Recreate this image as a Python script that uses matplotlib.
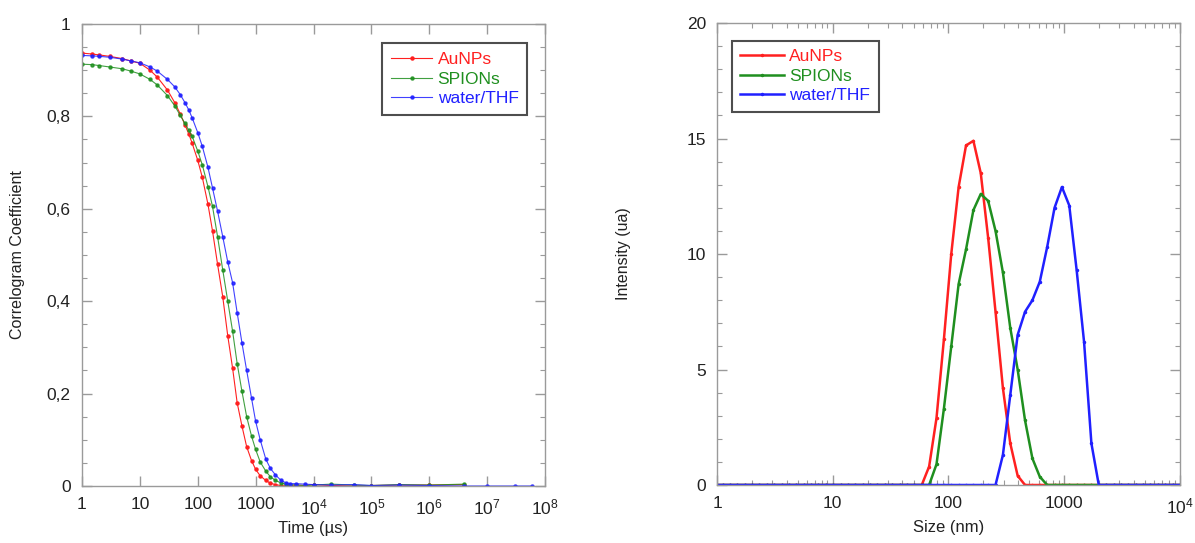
import numpy as np
import matplotlib.pyplot as plt
from matplotlib import ticker

plt.rcParams['font.family'] = ['Liberation Sans', 'DejaVu Sans']

# --------------------------------------------------
# Correlogram data (left panel)
# --------------------------------------------------
time_us = [1, 1.5, 2, 3, 5, 7, 10, 15, 20, 30, 40, 50, 60, 70, 80, 100, 120, 150,
           180, 220, 270, 330, 400, 480, 580, 700, 850, 1000, 1200, 1500, 1800,
           2200, 2700, 3300, 4000, 5000, 7000, 1e4, 2e4, 5e4, 1e5, 3e5, 1e6, 4e6]
time_tail = [1e7, 3e7, 6e7]

corr_aunps = [0.937, 0.935, 0.933, 0.930, 0.925, 0.920, 0.915, 0.900, 0.885, 0.857,
              0.830, 0.805, 0.782, 0.762, 0.742, 0.705, 0.668, 0.610, 0.552, 0.480,
              0.410, 0.325, 0.255, 0.180, 0.130, 0.085, 0.055, 0.036, 0.022, 0.012,
              0.006, 0.003, 0.001, 0.000, 0.001, 0.002, 0.001, 0.003, 0.001, 0.000,
              0.001, 0.002, 0.002, 0.003]
corr_spions = [0.913, 0.912, 0.910, 0.907, 0.903, 0.898, 0.892, 0.880, 0.868, 0.845,
               0.823, 0.802, 0.785, 0.770, 0.757, 0.725, 0.695, 0.648, 0.605, 0.540,
               0.468, 0.400, 0.335, 0.265, 0.205, 0.150, 0.108, 0.079, 0.052, 0.032,
               0.020, 0.012, 0.007, 0.004, 0.003, 0.002, 0.001, 0.002, 0.004, 0.002,
               0.001, 0.003, 0.002, 0.004]
corr_water = [0.932, 0.931, 0.930, 0.928, 0.924, 0.920, 0.916, 0.907, 0.898, 0.880,
              0.864, 0.847, 0.830, 0.814, 0.797, 0.765, 0.735, 0.690, 0.645, 0.595,
              0.540, 0.485, 0.440, 0.375, 0.310, 0.250, 0.190, 0.140, 0.100, 0.058,
              0.038, 0.024, 0.013, 0.007, 0.005, 0.005, 0.004, 0.003, 0.002, 0.003,
              0.001, 0.002, 0.001, 0.000, 0.000, 0.000, 0.000]

# --------------------------------------------------
# Size distribution data (right panel)
# --------------------------------------------------
size_nm = [0.9649, 1.117, 1.294, 1.499, 1.736, 2.010, 2.328, 2.696, 3.122, 3.615,
           4.187, 4.849, 5.615, 6.503, 7.531, 8.721, 10.10, 11.70, 13.54, 15.69,
           18.17, 21.04, 24.36, 28.21, 32.67, 37.84, 43.82, 50.75, 58.77, 68.06,
           78.82, 91.28, 105.7, 122.4, 141.8, 164.2, 190.1, 220.2, 255.0, 295.3,
           342.0, 396.1, 458.7, 531.2, 615.1, 712.4, 825.0, 955.4, 1106, 1281,
           1484, 1718, 1990, 2305, 2669, 3091, 3580, 4145, 4801, 5560, 6439,
           7456, 8635, 10000]

int_aunps = [0] * 29 + [0.8, 2.9, 6.3, 10.0, 12.9, 14.7, 14.9, 13.5, 10.7, 7.5, 4.2,
                        1.8, 0.4] + [0] * 22
int_spions = [0] * 30 + [0.9, 3.3, 6.0, 8.7, 10.2, 11.9, 12.6, 12.3, 11.0, 9.2, 6.8,
                         5.0, 2.8, 1.15, 0.36] + [0] * 19
int_water = [0] * 39 + [1.3, 3.9, 6.5, 7.5, 8.0, 8.8, 10.3, 12.0, 12.9, 12.1, 9.3,
                        6.2, 1.8] + [0] * 12

red = '#ff2020'
green = '#1f8f1f'
blue = '#2020ff'
spine_gray = '#9a9a9a'


def log_label(v, pos):
    if v <= 1000:
        return '%d' % round(v)
    return r'$\mathregular{10^{%d}}$' % round(np.log10(v))


def comma_label(v, pos):
    s = ('%.1f' % v).rstrip('0').rstrip('.')
    return s.replace('.', ',')


def style_axis(ax):
    for spine in ax.spines.values():
        spine.set_color(spine_gray)
        spine.set_linewidth(1.0)
    ax.tick_params(which='both', direction='in', top=True, right=True,
                   color=spine_gray, labelsize=12.5, labelcolor='#222222')
    ax.tick_params(which='major', length=7, width=1.0, pad=8)
    ax.tick_params(which='minor', length=3.5, width=0.8)
    ax.xaxis.set_major_formatter(ticker.FuncFormatter(log_label))
    ax.xaxis.set_minor_locator(ticker.LogLocator(base=10, subs=np.arange(2, 10)))
    ax.xaxis.set_minor_formatter(ticker.NullFormatter())


def style_legend(leg):
    leg.get_frame().set_edgecolor('#222222')
    leg.get_frame().set_linewidth(1.5)
    for txt, c in zip(leg.get_texts(), [red, green, blue]):
        txt.set_color(c)


fig = plt.figure(figsize=(11.95, 5.43), dpi=100)

# Left: correlogram
ax1 = fig.add_axes([0.0686, 0.105, 0.3875, 0.8508])
ax1.plot(time_us, corr_aunps, color=red, lw=0.8, marker='o', ms=2.2, label='AuNPs')
ax1.plot(time_us, corr_spions, color=green, lw=0.8, marker='o', ms=2.2, alpha=0.85,
         label='SPIONs')
ax1.plot(time_us + time_tail, corr_water, color=blue, lw=0.8, marker='o', ms=2.2,
         alpha=0.85, label='water/THF')
ax1.set_xscale('log')
ax1.set_xlim(1, 1e8)
ax1.set_ylim(0, 1)
ax1.xaxis.set_major_locator(ticker.LogLocator(base=10, numticks=12))
ax1.yaxis.set_major_locator(ticker.MultipleLocator(0.2))
ax1.yaxis.set_minor_locator(ticker.MultipleLocator(0.05))
ax1.yaxis.set_major_formatter(ticker.FuncFormatter(comma_label))
style_axis(ax1)
ax1.set_xlabel('Time (µs)', fontsize=12, color='#222222', labelpad=3)
ax1.set_ylabel('Correlogram Coefficient', fontsize=11.5, color='#222222', labelpad=16)

leg1 = ax1.legend(loc='upper left', bbox_to_anchor=(0.648, 0.958), fontsize=12.5,
                  frameon=True, fancybox=False, handlelength=2.4, handletextpad=0.3,
                  borderpad=0.5, labelspacing=0.25, borderaxespad=0)
style_legend(leg1)

# Right: size distribution
ax2 = fig.add_axes([0.600, 0.1068, 0.3874, 0.8508])
ax2.plot(size_nm, int_aunps, color=red, lw=1.8, marker='o', ms=1.5, label='AuNPs')
ax2.plot(size_nm, int_spions, color=green, lw=1.8, marker='o', ms=1.5, label='SPIONs')
ax2.plot(size_nm, int_water, color=blue, lw=1.8, marker='o', ms=1.5, label='water/THF')
ax2.set_xscale('log')
ax2.set_xlim(1, 1e4)
ax2.set_ylim(0, 20)
ax2.xaxis.set_major_locator(ticker.LogLocator(base=10, numticks=8))
ax2.yaxis.set_major_locator(ticker.MultipleLocator(5))
ax2.yaxis.set_minor_locator(ticker.MultipleLocator(1))
style_axis(ax2)
ax2.set_xlabel('Size (nm)', fontsize=12, color='#222222', labelpad=3)
ax2.set_ylabel('Intensity (ua)', fontsize=11.5, color='#222222', labelpad=40)

leg2 = ax2.legend(loc='upper left', bbox_to_anchor=(0.032, 0.962), fontsize=12.5,
                  frameon=True, fancybox=False, handlelength=2.5, handletextpad=0.3,
                  borderpad=0.5, labelspacing=0.25, borderaxespad=0)
style_legend(leg2)

fig.savefig('out.png', dpi=100)
